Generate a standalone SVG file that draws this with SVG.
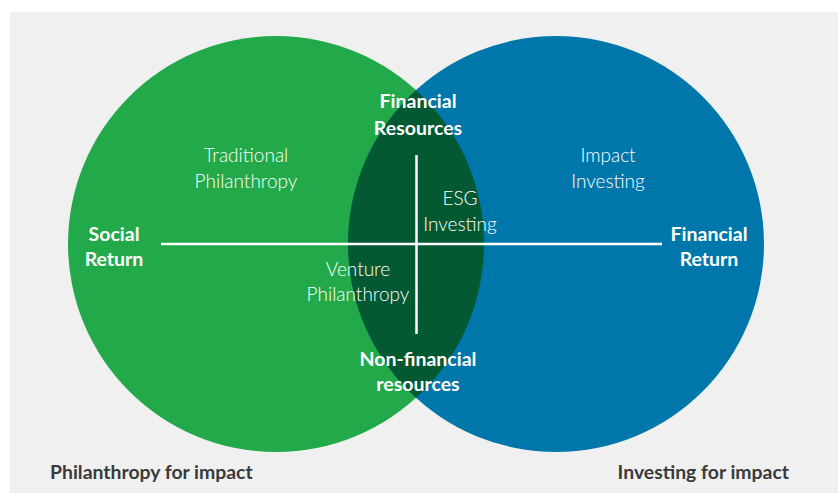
<svg xmlns="http://www.w3.org/2000/svg" width="838" height="493" viewBox="0 0 838 493">
<style>
.b{font-family:Lato,"Open Sans",sans-serif;font-weight:700;font-size:19.5px;fill:#fff;text-anchor:middle}
.l{font-family:Lato,"Open Sans",sans-serif;font-weight:300;font-size:19px;fill:#fff;text-anchor:middle}
.f{font-family:Lato,"Open Sans",sans-serif;font-weight:700;font-size:19.4px;fill:#3a3a3a}
.ax{stroke:#fff;stroke-width:2.5;fill:none}
</style>
<defs>
<clipPath id="cg"><circle cx="276" cy="244" r="208"/></clipPath>
</defs>
<rect x="0" y="0" width="838" height="493" fill="#fff"/>
<rect x="10" y="12" width="828" height="481" fill="#f0f0f0"/>
<g id="philanthropy-circle"><circle cx="276" cy="244" r="208" fill="#22aa4a"/></g>
<g id="investing-circle"><circle cx="556" cy="244" r="208" fill="#0077aa"/></g>
<g id="overlap"><circle cx="556" cy="244" r="208" fill="#035932" clip-path="url(#cg)"/></g>
<g id="connectors">
<line class="ax" x1="161" y1="244" x2="662" y2="244"/>
<line class="ax" x1="416.5" y1="155" x2="416.5" y2="334"/>
</g>
<g id="financial-resources"><text class="b" x="418" y="108">Financial</text><text class="b" x="418" y="135">Resources</text></g>
<g id="non-financial-resources"><text class="b" x="418" y="366">Non-financial</text><text class="b" x="418" y="391">resources</text></g>
<g id="social-return"><text class="b" x="114" y="241">Social</text><text class="b" x="114" y="266">Return</text></g>
<g id="financial-return"><text class="b" x="709" y="241">Financial</text><text class="b" x="709" y="266">Return</text></g>
<g id="traditional-philanthropy"><text class="l" x="246" y="162">Traditional</text><text class="l" x="246" y="188">Philanthropy</text></g>
<g id="impact-investing"><text class="l" x="608" y="162">Impact</text><text class="l" x="608" y="188">Investing</text></g>
<g id="esg-investing"><text class="l" x="460" y="205">ESG</text><text class="l" x="460" y="231">Investing</text></g>
<g id="venture-philanthropy"><text class="l" x="358" y="276">Venture</text><text class="l" x="358" y="301">Philanthropy</text></g>
<g id="philanthropy-for-impact"><text class="f" x="50" y="479">Philanthropy for impact</text></g>
<g id="investing-for-impact"><text class="f" x="789" y="479" text-anchor="end">Investing for impact</text></g>
</svg>
